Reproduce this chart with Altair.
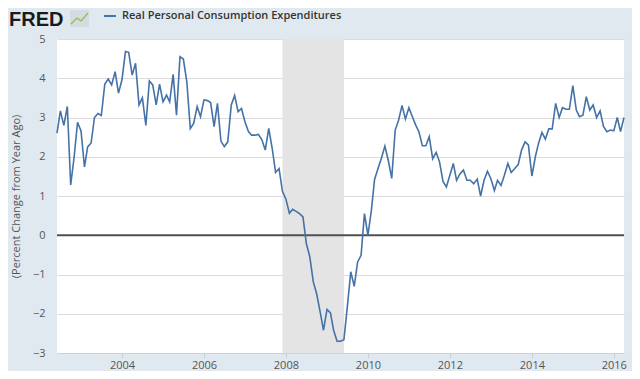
import altair as alt
import pandas as pd

# Monthly % change from year ago, Jun 2002 .. Apr 2016
values = [
    2.6, 3.17, 2.8, 3.28, 1.28, 2.0, 2.88, 2.66, 1.74, 2.25, 2.35, 3.0, 3.1, 3.05, 3.85, 3.98,
    3.83, 4.17, 3.62, 3.96, 4.68, 4.66, 4.08, 4.38, 3.32, 3.5, 2.8, 3.93, 3.83, 3.32, 3.85, 3.4,
    3.57, 3.4,
    4.1, 3.06, 4.55, 4.49, 3.91, 2.72, 2.85, 3.28, 3.02, 3.45, 3.43, 3.38, 2.77, 3.36, 2.4, 2.26,
    2.38, 3.32, 3.56, 3.15, 3.23, 2.89, 2.64, 2.55, 2.55, 2.57, 2.43, 2.17, 2.72, 2.21, 1.6, 1.7,
    1.12,
    0.92, 0.56, 0.66, 0.61, 0.55, 0.47, -0.21, -0.55, -1.19, -1.49, -1.95, -2.42, -1.89, -1.98,
    -2.42, -2.7, -2.7, -2.66, -1.83, -0.93, -1.3, -0.68, -0.51, 0.55, 0.0, 0.64, 1.42, 1.7, 1.96,
    2.27, 1.91, 1.45, 2.68,
    2.93, 3.31, 2.96, 3.25, 3.02, 2.82, 2.63, 2.28, 2.28, 2.51, 1.95, 2.11, 1.87, 1.37, 1.23, 1.53,
    1.83, 1.4, 1.57, 1.66, 1.4, 1.4, 1.31, 1.43, 1.0, 1.4, 1.63, 1.44, 1.14, 1.4, 1.27, 1.53, 1.83,
    1.6,
    1.7, 1.8, 2.17, 2.38, 2.3, 1.51, 2.0, 2.34, 2.62, 2.45, 2.71, 2.71, 3.36, 3.0, 3.25, 3.21, 3.21,
    3.81, 3.19, 3.02, 3.06, 3.53, 3.19, 3.32, 3.0, 3.17, 2.77, 2.64, 2.68, 2.66, 3.0, 2.64, 3.0,
]
start_month = "2002-06-01"
recession_start = ["2007-12-01T00:00:00"]
recession_end = ["2009-06-01T00:00:00"]
y_ticks = [-3, -2, -1, 0, 1, 2, 3, 4, 5]
x_tick_years = [2004, 2006, 2008, 2010, 2012, 2014, 2016]
series_name = "Real Personal Consumption Expenditures"
y_title = "(Percent Change from Year Ago)"

dates = pd.date_range(start_month, periods=len(values), freq="MS")
df = pd.DataFrame({"date": dates, "value": values})
rec_df = pd.DataFrame({"start": recession_start, "end": recession_end})
zero_df = pd.DataFrame({"y": [0]})
one = alt.Data(values=[{}])

x_scale = alt.Scale(domain=[alt.DateTime(year=2002, month=6, date=1),
                            alt.DateTime(year=2016, month=4, date=1)])
y_scale = alt.Scale(domain=[-3, 5], nice=False, zero=False)

x_axis = alt.Axis(
    values=[alt.DateTime(year=y, month=1, date=1) for y in x_tick_years],
    format="%Y", title=None, grid=False, domain=True, domainColor="#c8d2dc",
    ticks=True, tickColor="#c8d2dc", tickSize=5, labelPadding=1,
    labelColor="#555555", labelFont="Open Sans", labelFontSize=11,
)
y_axis = alt.Axis(
    values=y_ticks, title=y_title, grid=True, gridColor="#dcdcdc", domain=False,
    ticks=False, labelPadding=12, labelColor="#555555", labelFont="Open Sans",
    labelFontSize=11, titleFont="Open Sans", titleFontSize=11, titleFontWeight="normal",
    titleColor="#555555", titlePadding=11,
)

rec = alt.Chart(rec_df).mark_rect(color="#e4e4e4").encode(
    x=alt.X("start:T", scale=x_scale, axis=x_axis),
    x2="end:T",
)

zero = alt.Chart(zero_df).mark_rule(color="#505050", strokeWidth=2).encode(
    y=alt.Y("y:Q", scale=y_scale, axis=y_axis)
)

line = alt.Chart(df).mark_line(color="#4572a7", strokeWidth=1.6).encode(
    x=alt.X("date:T", scale=x_scale, axis=x_axis),
    y=alt.Y("value:Q", scale=y_scale, axis=y_axis),
)

logo = alt.Chart(one).mark_text(
    text="FRED", font="Liberation Sans", fontSize=20, fontWeight="bold",
    color="#1a1a1a", align="left", baseline="middle",
).encode(x=alt.value(-48), y=alt.value(-19))

icon_bg = alt.Chart(one).mark_rect(color="#d5dbe1").encode(
    x=alt.value(13), x2=alt.value(32), y=alt.value(-29), y2=alt.value(-12)
)
icon1 = alt.Chart(one).mark_rule(color="#8cc04b", strokeWidth=1.2).encode(
    x=alt.value(14), x2=alt.value(20), y=alt.value(-15), y2=alt.value(-21)
)
icon2 = alt.Chart(one).mark_rule(color="#8cc04b", strokeWidth=1.2).encode(
    x=alt.value(20), x2=alt.value(24), y=alt.value(-21), y2=alt.value(-18)
)
icon3 = alt.Chart(one).mark_rule(color="#8cc04b", strokeWidth=1.2).encode(
    x=alt.value(24), x2=alt.value(31), y=alt.value(-18), y2=alt.value(-26)
)

leg_line = alt.Chart(one).mark_rule(color="#4572a7", strokeWidth=2).encode(
    x=alt.value(47), x2=alt.value(59), y=alt.value(-23)
)
leg_text = alt.Chart(one).mark_text(
    text=series_name, font="Open Sans", fontSize=11, fontWeight=600,
    color="#333333", align="left", baseline="middle",
).encode(x=alt.value(65), y=alt.value(-23))

chart = alt.layer(
    rec, zero, line, logo, icon_bg, icon1, icon2, icon3, leg_line, leg_text
).properties(
    width=567, height=314,
    autosize=alt.AutoSizeParams(type="none"),
    padding={"left": 49, "top": 31, "right": 8, "bottom": 18},
    background="#e1e9f0",
).configure_view(fill="white", strokeWidth=0)

chart.save("out.html", embed_options={"renderer": "svg", "actions": False})
